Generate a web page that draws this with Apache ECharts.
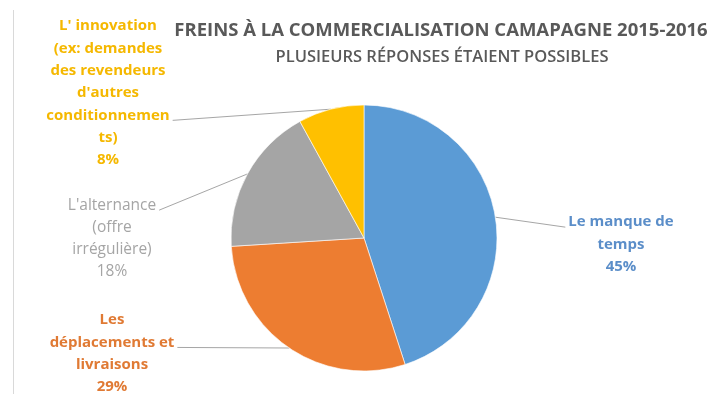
<!DOCTYPE html>
<html>
<head>
<meta charset="utf-8">
<script src="https://cdn.jsdelivr.net/npm/echarts@6/dist/echarts.min.js"></script>
<style>
  html, body { margin: 0; padding: 0; background: #ffffff; }
  #chart { width: 709px; height: 394px; }
</style>
</head>
<body>
<div id="chart"></div>
<script>
// Obstacles to selling, 2015-2016 season (several answers allowed)
const categories = [
  "Le manque de temps",
  "Les déplacements et livraisons",
  "L'alternance (offre irrégulière)",
  "L' innovation (ex: demandes des revendeurs d'autres conditionnements)"
];
const shares = [45, 29, 18, 8];
// Label text broken into the lines shown next to each slice
const wrappedNames = [
  ["Le manque de", "temps"],
  ["Les", "déplacements et", "livraisons"],
  ["L'alternance", "(offre", "irrégulière)"],
  ["L' innovation", "(ex: demandes", "des revendeurs", "d'autres", "conditionnemen", "ts)"]
];
const titleText = "FREINS À LA COMMERCIALISATION CAMAPAGNE 2015-2016";
const subtitleText = "PLUSIEURS RÉPONSES ÉTAIENT POSSIBLES";

// Layout of the data labels (top-centre of each text block) and leader line anchors
const labelBoxes = [
  { x: 621, y: 211, side: "left", line: 0 },
  { x: 112, y: 309, side: "right", line: 1 },
  { x: 112, y: 194, side: "right", line: 0 },
  { x: 108, y: 15, side: "right", line: 4 }
];
const sliceColors = ["#5b9bd5", "#ed7d31", "#a5a5a5", "#ffc000"];
const labelColors = ["#5b8ec9", "#e07a34", "#a5a5a5", "#f5b800"];
const labelWeights = ["bold", "bold", "normal", "bold"];
const labelSizes = [15, 15, 15.5, 15];
const LINE_H = 22.3;
const FONT = "'Open Sans', 'DejaVu Sans', sans-serif";

const chart = echarts.init(document.getElementById("chart"), null, { renderer: "canvas" });

const data = categories.map((name, i) => ({
  name: name,
  value: shares[i],
  itemStyle: { color: sliceColors[i] },
  label: { color: labelColors[i], fontWeight: labelWeights[i], fontSize: labelSizes[i] }
}));

chart.setOption({
  backgroundColor: "#ffffff",
  animation: false,
  title: [
    {
      text: titleText,
      left: 436, top: 16, textAlign: "center",
      textStyle: { fontFamily: FONT, fontSize: 18.5, fontWeight: "bold", color: "#595959" }
    },
    {
      text: subtitleText,
      left: 437, top: 44, textAlign: "center",
      textStyle: { fontFamily: FONT, fontSize: 16.5, fontWeight: 600, color: "#595959" }
    }
  ],
  graphic: [
    {
      type: "line", silent: true,
      shape: { x1: 13.5, y1: 10, x2: 13.5, y2: 394 },
      style: { stroke: "#d9d9d9", lineWidth: 1 }
    }
  ],
  series: [
    {
      type: "pie",
      center: [364, 238],
      radius: [0, 133],
      startAngle: 90,
      clockwise: true,
      avoidLabelOverlap: false,
      itemStyle: { borderColor: "#ffffff", borderWidth: 0.6 },
      label: {
        show: true,
        position: "outside",
        fontFamily: FONT,
        fontSize: 15,
        lineHeight: LINE_H,
        align: "center",
        formatter: (p) => wrappedNames[p.dataIndex].join("\n") + "\n" + p.value + "%"
      },
      labelLine: {
        show: true,
        lineStyle: { color: "#a6a6a6", width: 1 }
      },
      labelLayout: function (params) {
        const box = labelBoxes[params.dataIndex];
        const w = params.labelRect.width;
        const start = params.labelLinePoints ? params.labelLinePoints[0] : null;
        const ay = box.y + LINE_H * (box.line + 0.5) + 5;
        const ax = box.side === "left" ? box.x - w / 2 - 3 : box.x + w / 2 + 3;
        const out = {
          x: box.x,
          y: box.y,
          align: "center",
          verticalAlign: "top"
        };
        if (start) {
          out.labelLinePoints = [start, [ax, ay], [ax, ay]];
        }
        return out;
      },
      data: data
    }
  ]
});
</script>
</body>
</html>
